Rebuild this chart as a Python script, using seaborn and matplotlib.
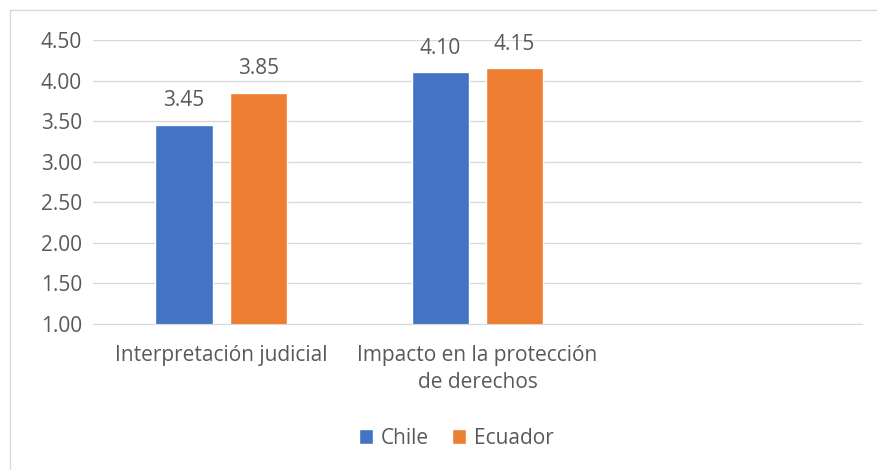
import numpy as np
import pandas as pd
import seaborn as sns
from matplotlib import pyplot as plt
from matplotlib.lines import Line2D
from matplotlib.patches import Patch

# data
categorias = ['Interpretación judicial', 'Impacto en la protección\nde derechos']
orden = categorias + ['']   # third slot is empty in the original
chile = [3.45, 4.10]
ecuador = [3.85, 4.15]
paises = ['Chile', 'Ecuador']
colores = ['#4472C4', '#ED7D31']
yticks = [1.0, 1.5, 2.0, 2.5, 3.0, 3.5, 4.0, 4.5]

df = pd.DataFrame({
    'categoria': categorias * 2,
    'pais': ['Chile'] * len(chile) + ['Ecuador'] * len(ecuador),
    'valor': chile + ecuador,
})

sns.set_style('white')
plt.rcParams['font.family'] = ['Open Sans', 'DejaVu Sans']
texto = '#595959'
fs = 15

fig = plt.figure(figsize=(8.78, 4.70), dpi=100)
ax = fig.add_axes([93 / 878, 1 - 324 / 470, 769 / 878, 284 / 470])

sns.barplot(data=df, x='categoria', y='valor', hue='pais', order=orden,
            hue_order=paises, palette=colores, saturation=1, width=0.58, gap=0.225,
            ax=ax, legend=False)

for cont in ax.containers:
    ax.bar_label(cont, fmt='%.2f', padding=10, fontsize=fs, color=texto)

ax.set_ylim(1, 4.5)
ax.set_yticks(yticks)
ax.set_yticklabels([f'{v:.2f}' for v in yticks])
ax.set_xlabel('')
ax.set_ylabel('')
ax.grid(axis='y', color='#D9D9D9', linewidth=1)
ax.set_axisbelow(True)
for s in ['top', 'right', 'left']:
    ax.spines[s].set_visible(False)
ax.spines['bottom'].set_color('#D9D9D9')
ax.tick_params(axis='y', length=0, pad=8, labelsize=fs, labelcolor=texto)
ax.tick_params(axis='x', length=0, pad=15, labelsize=fs, labelcolor=texto)
for t in ax.get_xticklabels():
    t.set_linespacing(1.4)

handles = [Patch(facecolor=c, label=p) for p, c in zip(paises, colores)]
fig.legend(handles=handles, loc='center', bbox_to_anchor=(456 / 878, 1 - 438 / 470),
           ncol=2, frameon=False, fontsize=fs, labelcolor=texto,
           handlelength=0.7, handleheight=0.7, handletextpad=0.35, columnspacing=1.1)

# light chart frame (top and left edges)
fig.add_artist(Line2D([10 / 878, 1], [1 - 10 / 470, 1 - 10 / 470], color='#D9D9D9', lw=1))
fig.add_artist(Line2D([10 / 878, 10 / 878], [0, 1 - 10 / 470], color='#D9D9D9', lw=1))

fig.savefig('out.png', dpi=100)
